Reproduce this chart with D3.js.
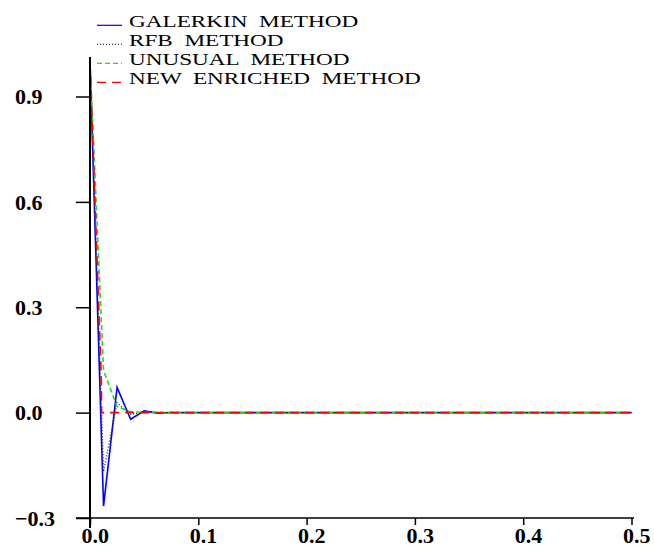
<!DOCTYPE html>
<html>
<head>
<meta charset="utf-8">
<script src="https://cdn.jsdelivr.net/npm/d3@7"></script>
<style>
  body { margin: 0; background: #fff; }
</style>
</head>
<body>
<div id="chart"></div>
<script>
const FONT = '"Liberation Serif", "Times New Roman", Times, "DejaVu Serif", serif';
// сетка по x: шаг 0.0125 на [0, 0.5]
const xs = d3.range(0, 41).map(i => i * 0.0125);
// значения решений
const galerkin = [1.0, -0.266, 0.072, -0.019, 0.005, -0.0014, 0.0004];
const rfb = [1.0, -0.168, 0.028, -0.005, 0.001];
const unusual = [1.0, 0.12, 0.017, 0.003, 0.0004];
// новый метод: дополнительные точки внутри первого элемента
const enrichedX = [0, 0.0105, 0.0107, 0.0125, 0.5];
const enrichedY = [1.0, 0.093, 0.0, 0.0, 0.0];
const xTicks = [0, 0.1, 0.2, 0.3, 0.4, 0.5];
const yTicks = [-0.3, 0, 0.3, 0.6, 0.9];
const legendNames = ['GALERKIN  METHOD', 'RFB  METHOD', 'UNUSUAL  METHOD', 'NEW  ENRICHED  METHOD'];

// дополняем ряды нулями до конца сетки
function pad(vals) {
   return xs.map((x, i) => ({x: x, y: i < vals.length ? vals[i] : 0}));
}

const width = 654, height = 552;
const x = d3.scaleLinear().domain([0, 0.5]).range([90, 631.5]);
const y = d3.scaleLinear().domain([-0.3, 0.9]).range([518, 96.5]);

const svg = d3.select('#chart').append('svg')
   .attr('width', width)
   .attr('height', height)
   .attr('font-family', FONT);

const series = [
   {name: legendNames[0], pts: pad(galerkin), color: '#0000ff', dash: null, w: 1.6},
   {name: legendNames[1], pts: pad(rfb), color: '#333', dash: '1,2', w: 1.4},
   {name: legendNames[2], pts: pad(unusual), color: '#22dd22', dash: '5,3', w: 1.6},
   {name: legendNames[3], pts: enrichedX.map((d, i) => ({x: d, y: enrichedY[i]})), color: '#ff0000', dash: '9,6', w: 1.6}
];

const line = d3.line().x(d => x(d.x)).y(d => y(d.y));

svg.append('g').selectAll('path')
   .data(series)
   .enter().append('path')
   .attr('d', d => line(d.pts))
   .attr('fill', 'none')
   .attr('stroke', d => d.color)
   .attr('stroke-width', d => d.w)
   .attr('stroke-dasharray', d => d.dash);

// ось x
const gx = svg.append('g').attr('transform', 'translate(0,' + y(-0.3) + ')')
   .call(d3.axisBottom(x).tickValues(xTicks).tickSize(7).tickFormat(d3.format('.1f')))
   .attr('font-family', FONT);
gx.select('.domain').remove();
gx.selectAll('line').attr('stroke', '#000').attr('stroke-width', 1.5);
gx.selectAll('text')
   .attr('text-anchor', 'start')
   .attr('x', -9).attr('y', 25).attr('dy', 0)
   .attr('font-size', 22).attr('font-weight', 'bold').attr('fill', '#000');
svg.append('line')
   .attr('x1', 76).attr('x2', 634)
   .attr('y1', y(-0.3)).attr('y2', y(-0.3))
   .attr('stroke', '#000').attr('stroke-width', 1.5);

// ось y
const gy = svg.append('g').attr('transform', 'translate(' + x(0) + ',0)')
   .call(d3.axisLeft(y).tickValues(yTicks).tickSize(14).tickFormat(d3.format('.1f')))
   .attr('font-family', FONT);
gy.select('.domain').remove();
gy.selectAll('line').attr('stroke', '#000').attr('stroke-width', 1.5);
gy.selectAll('text')
   .attr('text-anchor', 'start')
   .attr('x', 15 - x(0)).attr('dy', '0.33em')
   .attr('font-size', 22).attr('font-weight', 'bold').attr('fill', '#000');
svg.append('line')
   .attr('x1', x(0)).attr('x2', x(0))
   .attr('y1', 57).attr('y2', 528)
   .attr('stroke', '#000').attr('stroke-width', 2);

// легенда
const legend = svg.append('g').selectAll('g')
   .data(series)
   .enter().append('g')
   .attr('transform', (d, i) => 'translate(0,' + (25.3 + i * 19) + ')');
legend.append('line')
   .attr('x1', 97).attr('x2', 122)
   .attr('stroke', d => d.color)
   .attr('stroke-width', 1.2)
   .attr('stroke-dasharray', d => d.dash);
legend.append('text')
   .attr('transform', 'translate(129,1.5) scale(1.45,1)')
   .attr('font-size', 16)
   .attr('fill', '#000')
   .style('white-space', 'pre')
   .text(d => d.name);
</script>
</body>
</html>
